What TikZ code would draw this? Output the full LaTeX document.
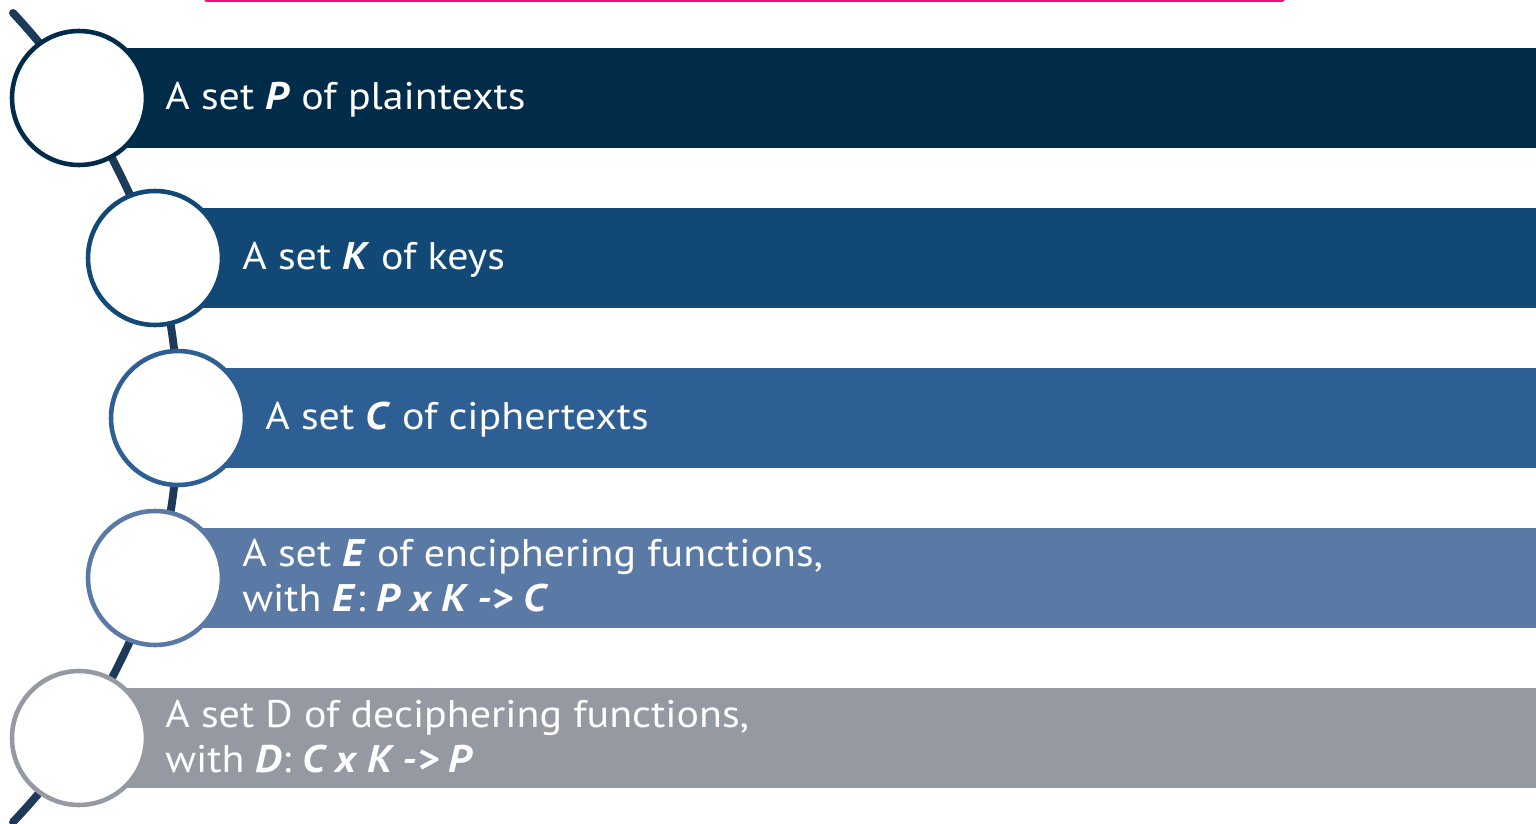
\documentclass[tikz,border=0pt]{standalone}
\usepackage{fontspec}
\setmainfont[FakeStretch=1.09]{PT Sans}
\definecolor{barA}{HTML}{002B49}
\definecolor{barB}{HTML}{124876}
\definecolor{barC}{HTML}{2D5E94}
\definecolor{barD}{HTML}{5A7AA5}
\definecolor{barE}{HTML}{9599A2}
\definecolor{spinecol}{HTML}{1E3A5A}
\definecolor{pinkcol}{HTML}{E8137E}
\tikzset{
  bar/.style={draw=none, rectangle, minimum height=2.02cm, minimum width=29.14cm, anchor=west, inner sep=0pt},
  ring/.style={circle, fill=white, draw=#1, line width=2.6pt, minimum size=2.68cm, inner sep=0pt},
  lbl/.style={text=white, anchor=base west, inner sep=0pt, align=left},
  big/.style={font=\fontsize{21.9pt}{25.6pt}\selectfont},
}
\newcommand{\bi}[1]{\textbf{\textit{#1}}}
\begin{document}
\begin{tikzpicture}[x=0.02cm,y=-0.02cm]
\useasboundingbox (0,0) rectangle (1536,824);
\clip (0,0) rectangle (1536,824);
% pink line at top
\coordinate (pk1) at (207,-1);
\coordinate (pk2) at (1282,-1);
\draw[pinkcol, line width=3.4pt, line cap=round] (pk1) -- (pk2);
% bars
\node[bar, fill=barA] (b1) at (79,98) {};
\node[bar, fill=barB] (b2) at (155,258) {};
\node[bar, fill=barC] (b3) at (178,418) {};
\node[bar, fill=barD] (b4) at (155,578) {};
\node[bar, fill=barE] (b5) at (79,738) {};
% spine
\coordinate (s0) at (13,13);
\coordinate (s6) at (13,822);
\draw[spinecol, line width=4.5pt, line cap=round]
  plot[smooth, tension=0.6] coordinates {(13,13) (79,98) (155,258) (178,418) (155,578) (79,738) (13,822)};
% circles
\node[ring=barA] (c1) at (79,98) {};
\node[ring=barB] (c2) at (155,258) {};
\node[ring=barC] (c3) at (178,418) {};
\node[ring=barD] (c4) at (155,578) {};
\node[ring=barE] (c5) at (79,738) {};
% labels
\node[lbl, big] (t1) at (165,110) {A set \bi{P} of plaintexts};
\node[lbl, big] (t2) at (242,270) {A set \bi{K} of keys};
\node[lbl, big] (t3) at (265,430) {A set \bi{C} of ciphertexts};
\node[lbl, big] (t4) at (242,611) {A set \bi{E} of enciphering functions,\\with \bi{E}: \bi{P x K -> C}};
\node[lbl, big] (t5) at (165,772) {A set D of deciphering functions,\\with \bi{D}: \bi{C x K -> P}};
\end{tikzpicture}
\end{document}
